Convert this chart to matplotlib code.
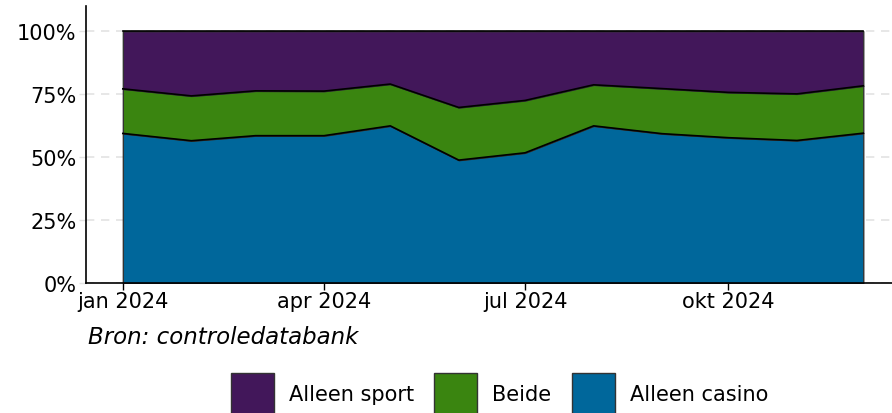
import numpy as np
import pandas as pd
import matplotlib
matplotlib.use("Agg")
import matplotlib.pyplot as plt
from matplotlib.ticker import FuncFormatter

# maandelijkse aandelen (%)
maanden = pd.date_range("2024-01-01", "2024-12-01", freq="MS")
alleen_casino = [59.4, 56.5, 58.5, 58.5, 62.4, 48.8, 51.7, 62.4, 59.3, 57.7, 56.6, 59.5]
beide = [17.7, 17.8, 17.8, 17.7, 16.6, 20.9, 20.8, 16.3, 17.9, 18.0, 18.5, 18.8]
alleen_sport = [100 - c - b for c, b in zip(alleen_casino, beide)]

kleuren = {"Alleen casino": "#00679b", "Beide": "#3a8510", "Alleen sport": "#42175a"}
labels_nl = {1: "jan", 4: "apr", 7: "jul", 10: "okt"}

plt.rcParams["font.family"] = ["Liberation Sans Narrow", "DejaVu Sans"]

fig = plt.figure(figsize=(8.92, 4.14), dpi=100)
ax = fig.add_axes([86 / 892, 130 / 414, 806 / 892, 277 / 414])
ax.set_axisbelow(True)

ax.stackplot(maanden, alleen_casino, beide, alleen_sport,
             colors=[kleuren["Alleen casino"], kleuren["Beide"], kleuren["Alleen sport"]],
             labels=["Alleen casino", "Beide", "Alleen sport"],
             edgecolor="face", linewidth=0.5, zorder=2)

# zwarte randlijnen tussen de lagen
top1 = np.array(alleen_casino)
top2 = top1 + np.array(beide)
ax.plot(maanden, top1, color="black", lw=1.2, zorder=3)
ax.plot(maanden, top2, color="black", lw=1.2, zorder=3)
ax.plot(maanden, [100] * len(maanden), color="black", lw=1.2, zorder=3)

ax.set_ylim(0, 110)
ax.set_xlim(pd.Timestamp("2023-12-15 08:00"), pd.Timestamp("2024-12-14"))
ax.set_yticks([0, 25, 50, 75, 100])
ax.yaxis.set_major_formatter(FuncFormatter(lambda v, p: f"{int(v)}%"))
ax.set_xticks([pd.Timestamp(f"2024-{m:02d}-01") for m in (1, 4, 7, 10)])
ax.set_xticklabels([f"{labels_nl[m]} 2024" for m in (1, 4, 7, 10)])

ax.grid(axis="y", color="#e3e3e3", linestyle=(0, (5, 4)), lw=1.2)
ax.tick_params(axis="both", labelsize=15, length=5, width=1, pad=1)
ax.tick_params(axis="y", colors="#e3e3e3", labelcolor="black", pad=2)
for s in ("top", "right"):
    ax.spines[s].set_visible(False)
for s in ("left", "bottom"):
    ax.spines[s].set_linewidth(1.2)

fig.text(88 / 892, 1 - 338 / 414, "Bron: controledatabank", fontsize=16.5,
         style="italic", va="center", ha="left")

handles, labels = ax.get_legend_handles_labels()
for h in handles:
    h.set_edgecolor("#333333")
    h.set_linewidth(1)
fig.legend(handles[::-1], labels[::-1], loc="lower center", ncol=3,
           bbox_to_anchor=(0.56, -0.047), frameon=False, fontsize=15,
           handlelength=2.07, handleheight=2.6, columnspacing=0.96, handletextpad=0.72)

fig.savefig("out.png", dpi=100)
